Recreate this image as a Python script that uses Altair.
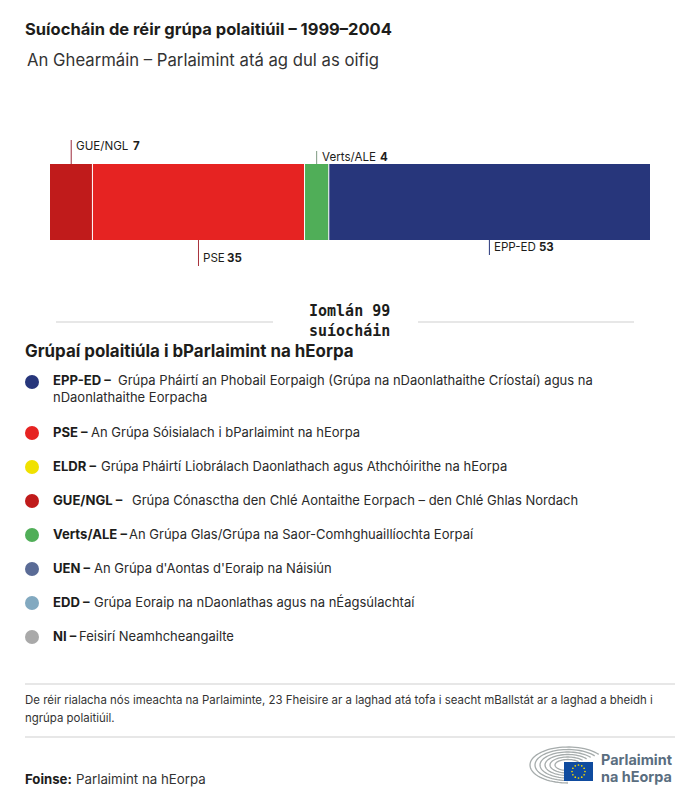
import numpy as np
import pandas as pd
import altair as alt

# ---- data
groups = ["GUE/NGL", "PSE", "Verts/ALE", "EPP-ED"]
seats = [7, 35, 4, 53]
group_colors = ["#c01b1b", "#e62322", "#50ae58", "#27367b"]
leader_colors = ["#9c2a3a", "#a8323c", "#7d9a80", "#27367b"]

legend_codes = ["EPP-ED –", "PSE –", "ELDR –", "GUE/NGL –", "Verts/ALE –", "UEN –", "EDD –", "NI –"]
legend_texts = [
    ["Grúpa Pháirtí an Phobail Eorpaigh (Grúpa na nDaonlathaithe Críostaí) agus na", "nDaonlathaithe Eorpacha"],
    ["An Grúpa Sóisialach i bParlaimint na hEorpa"],
    ["Grúpa Pháirtí Liobrálach Daonlathach agus Athchóirithe na hEorpa"],
    ["Grúpa Cónasctha den Chlé Aontaithe Eorpach – den Chlé Ghlas Nordach"],
    ["An Grúpa Glas/Grúpa na Saor-Comhghuaillíochta Eorpaí"],
    ["An Grúpa d'Aontas d'Eoraip na Náisiún"],
    ["Grúpa Eoraip na nDaonlathas agus na nÉagsúlachtaí"],
    ["Feisirí Neamhcheangailte"],
]
legend_colors = ["#27367b", "#e62322", "#f0e100", "#c01b1b", "#50ae58", "#5a6b96", "#82a9c0", "#a9a9a9"]

title = "Suíocháin de réir grúpa polaitiúil – 1999–2004"
subtitle = "An Ghearmáin – Parlaimint atá ag dul as oifig"
total_lines = ["Iomlán 99", "suíocháin"]
legend_title = "Grúpaí polaitiúla i bParlaimint na hEorpa"
note_lines = [
    "De réir rialacha nós imeachta na Parlaiminte, 23 Fheisire ar a laghad atá tofa i seacht mBallstát ar a laghad a bheidh i",
    "ngrúpa polaitiúil.",
]
source_bold = "Foinse:"
source_text = "Parlaimint na hEorpa"
logo_text = ["Parlaimint", "na hEorpa"]

# ---- layout (page pixels; the chart starts 8px in)
FONT = "Inter"
OFF = 8
W, H = 684, 788
px = lambda v: alt.value(v - OFF)
dummy = pd.DataFrame({"a": [0]})


def text(s, x, y, size=13, weight="normal", color="#1d1d1b", font=FONT, align="left"):
    return (
        alt.Chart(dummy)
        .mark_text(text=s, fontSize=size, fontWeight=weight, color=color, font=font,
                   align=align, baseline="alphabetic")
        .encode(x=px(x), y=px(y))
    )


def rule(x1, x2, y1, y2, color="#cfcfcf", width=1):
    return alt.Chart(dummy).mark_rule(color=color, strokeWidth=width).encode(
        x=px(x1), x2=px(x2), y=px(y1), y2=px(y2))


layers = []
layers.append(text(title, 25, 35, 16.5, "bold"))
layers.append(text(subtitle, 27, 66, 16.7, "normal", "#333333"))

# bar
starts = list(np.cumsum([0] + seats[:-1]))
bar_df = pd.DataFrame({"group": groups, "start": starts, "end": np.cumsum(seats),
                       "mid": [s + v / 2 for s, v in zip(starts, seats)], "color": group_colors,
                       "line": leader_colors})
xscale = alt.Scale(domain=[0, sum(seats)], range=[50 - OFF, 650 - OFF])
layers.append(
    alt.Chart(bar_df).mark_bar().encode(
        x=alt.X("start:Q", scale=xscale, axis=None),
        x2="end:Q",
        y=px(164), y2=px(240),
        color=alt.Color("color:N", scale=None),
    )
)
layers.append(
    alt.Chart(bar_df.iloc[1:]).mark_rule(color="white", strokeWidth=1).encode(
        x=alt.X("start:Q", scale=xscale, axis=None), y=px(164), y2=px(240))
)
leader_spans = [(140, 164), (240, 266), (151, 164), (240, 255)]
label_pos = [(76, 150), (203, 262), (322, 161), (494, 251)]
num_pos = [(133, 150), (227, 262), (380, 161), (539, 251)]
for i, g in enumerate(groups):
    row = bar_df.iloc[[i]]
    layers.append(
        alt.Chart(row).mark_rule(strokeWidth=1, color=leader_colors[i]).encode(
            x=alt.X("mid:Q", scale=xscale, axis=None),
            y=px(leader_spans[i][0]), y2=px(leader_spans[i][1]))
    )
    layers.append(text(g, *label_pos[i], 11.6))
    layers.append(text(str(seats[i]), *num_pos[i], 11.5, "bold"))

# total with side rules
layers.append(rule(56, 273, 322, 322))
layers.append(rule(418, 634, 322, 322))
layers.append(text(total_lines[0], 309, 316, 15, "bold", font="DejaVu Sans Mono"))
layers.append(text(total_lines[1], 309, 336, 15, "bold", font="DejaVu Sans Mono"))

layers.append(text(legend_title, 25, 357, 16.9, "bold"))

# legend
row_y = [385, 437, 471, 505, 539, 573, 607, 641]
dot_y = [382, 433, 467, 501, 535, 569, 603, 637]
text_x = [118, 91, 101, 132, 129, 94, 94, 79]
for i, code in enumerate(legend_codes):
    layers.append(
        alt.Chart(dummy).mark_point(filled=True, size=196, opacity=1, color=legend_colors[i]).encode(
            x=px(32), y=px(dot_y[i]))
    )
    layers.append(text(code, 53, row_y[i], 13.1, "bold"))
    for j, t in enumerate(legend_texts[i]):
        layers.append(text(t, text_x[i] if j == 0 else 53, row_y[i] + 17 * j, 13, "normal", "#2a2a2a"))

# note
layers.append(rule(25, 675, 684, 684))
layers.append(rule(25, 675, 737, 737))
layers.append(text(note_lines[0], 25, 704, 11.45, "normal", "#333333"))
layers.append(text(note_lines[1], 25, 722, 11.45, "normal", "#333333"))
layers.append(text(source_bold, 25, 784, 13.2, "bold"))
layers.append(text(source_text, 76, 784, 13.3, "normal", "#333333"))

# logo: hemicycle rings, flag, stars
ring_rows = []
cx, cy = 568, 765
for k, (rx, ry) in enumerate([(38, 18), (33, 15.5), (28, 13), (23, 10.5), (18, 8), (13, 5.5)]):
    for a in np.linspace(np.pi * 0.2, np.pi * 1.5, 50):
        ring_rows.append({"k": k, "o": a, "x": cx - OFF + rx * np.cos(a), "y": cy - OFF - ry * np.sin(a)})
layers.append(
    alt.Chart(pd.DataFrame(ring_rows)).mark_line(color="#a6acac", strokeWidth=1.3).encode(
        x=alt.X("x:Q", scale=None, axis=None), y=alt.Y("y:Q", scale=None, axis=None),
        detail="k:N", order="o:Q")
)
layers.append(alt.Chart(dummy).mark_rect(color="#0f4b9f").encode(x=px(564), x2=px(593), y=px(762), y2=px(781)))
star_a = np.arange(12) * np.pi / 6
stars = pd.DataFrame({"x": 578.5 - OFF + 6.5 * np.cos(star_a), "y": 771.5 - OFF + 6.5 * np.sin(star_a)})
layers.append(
    alt.Chart(stars).mark_point(filled=True, size=3, opacity=1, color="#f3d800").encode(
        x=alt.X("x:Q", scale=None, axis=None), y=alt.Y("y:Q", scale=None, axis=None))
)
layers.append(text(logo_text[0], 601, 765, 14.4, "bold", "#5a6e7f"))
layers.append(text(logo_text[1], 601, 782, 14.4, "bold", "#5a6e7f"))

chart = (
    alt.layer(*layers)
    .resolve_scale(x="independent", y="independent", color="independent")
    .properties(width=W, height=H, padding=0, autosize=alt.AutoSizeParams(type="none"),
                background="white")
    .configure_view(stroke=None)
)
chart.save("out.html", embed_options={"renderer": "svg", "actions": False})
